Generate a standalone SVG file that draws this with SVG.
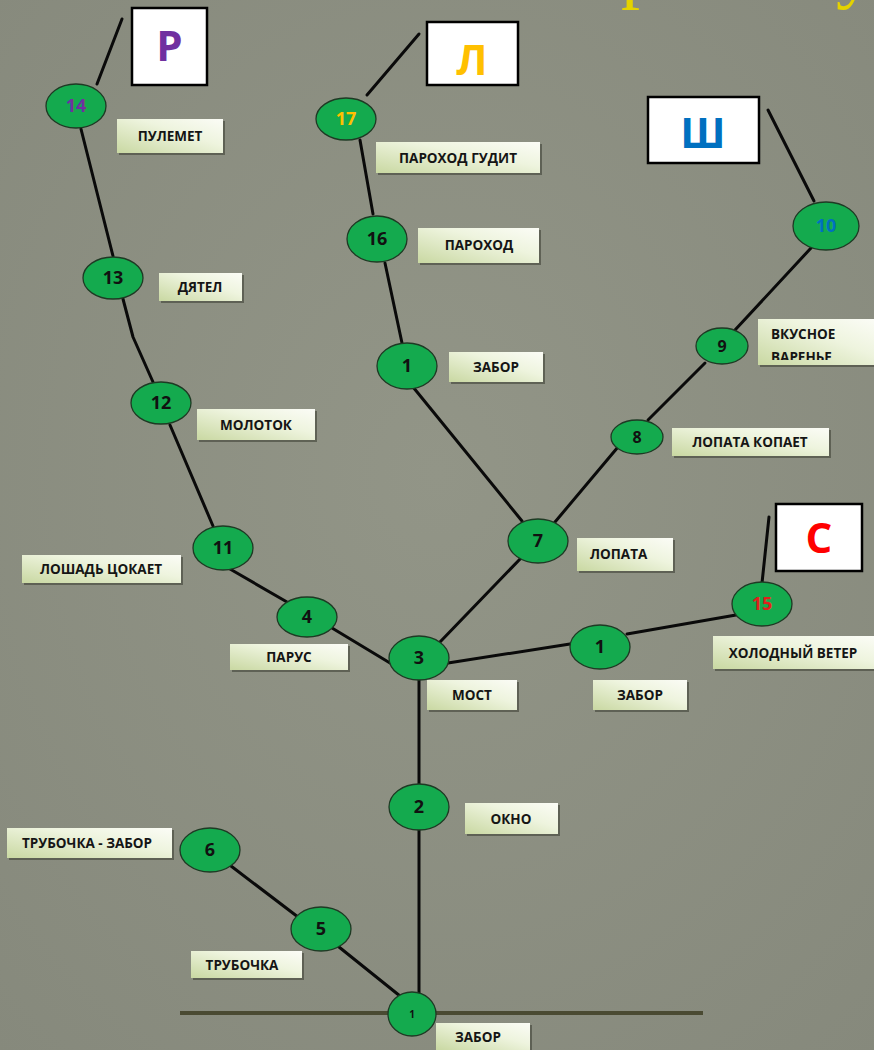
<svg xmlns="http://www.w3.org/2000/svg" width="874" height="1050" viewBox="0 0 874 1050">
<defs>
<linearGradient id="lbl" x1="0" y1="1" x2="1" y2="0">
<stop offset="0" stop-color="#c9d8a2"/>
<stop offset="0.6" stop-color="#eef4de"/>
<stop offset="1" stop-color="#fbfcf6"/>
</linearGradient>
<radialGradient id="bg" cx="0.5" cy="0.45" r="0.75">
<stop offset="0" stop-color="#929587"/>
<stop offset="1" stop-color="#86897c"/>
</radialGradient>
<clipPath id="clipVar"><rect x="758" y="319" width="116" height="41"/></clipPath>
<style>
.conn{stroke:#0a0a0a;stroke-width:3;fill:none;stroke-linecap:round;stroke-linejoin:round}
.node{fill:#14aa4e;stroke:#1e3a24;stroke-width:1.3}
.num{font-family:"Open Sans","Liberation Sans",sans-serif;font-weight:700;font-size:18px;fill:#111;text-anchor:middle}
.lbl{fill:url(#lbl)}
.shd{fill:#4f5246;opacity:0.75}
.lt{font-family:"Open Sans","Liberation Sans",sans-serif;font-weight:700;font-size:13.5px;fill:#151515;text-anchor:middle}
.lbox{fill:#ffffff;stroke:#000;stroke-width:2.5}
.letter{font-family:"Open Sans","Liberation Sans",sans-serif;font-weight:700;font-size:42px;text-anchor:middle}
.ttl{font-family:"Liberation Serif",serif;font-size:76px;fill:#e4d200}
</style>
</defs>
<rect width="874" height="1050" fill="url(#bg)"/>
<g id="title-fragment">
<text class="ttl" x="621" y="-6">р</text>
<text class="ttl" x="836" y="-6">у</text>
</g>
<line id="ground" x1="180" y1="1013" x2="703" y2="1013" stroke="#4a4a32" stroke-width="4"/>
<g id="connectors">
<path class="conn" d="M97,84 L122,19"/>
<path class="conn" d="M81,129 L113,256"/>
<path class="conn" d="M123,299 L133,337 L153,382"/>
<path class="conn" d="M170,425 L213,526"/>
<path class="conn" d="M230,569 L287,602"/>
<path class="conn" d="M332,628 L390,663"/>
<path class="conn" d="M440,642 L522,557"/>
<path class="conn" d="M448,663 L570,644"/>
<path class="conn" d="M627,634 L736,615"/>
<path class="conn" d="M762,583 L769,517"/>
<path class="conn" d="M413,387 L522,521"/>
<path class="conn" d="M402,343 L385,263"/>
<path class="conn" d="M373,214 L360,140"/>
<path class="conn" d="M367,95 L419,34"/>
<path class="conn" d="M555,522 L618,447"/>
<path class="conn" d="M648,420 L705,363"/>
<path class="conn" d="M735,330 L811,248"/>
<path class="conn" d="M814,201 L768,110"/>
<path class="conn" d="M419,680 L419,785"/>
<path class="conn" d="M419,830 L419,995"/>
<path class="conn" d="M231,866 L298,917"/>
<path class="conn" d="M339,947 L400,996"/>
</g>
<g id="box-R"><rect class="lbox" x="132" y="8" width="75" height="77"/><text class="letter" x="169.5" y="61" fill="#7030a0">Р</text></g>
<g id="box-L"><rect class="lbox" x="427" y="22" width="91" height="63"/><text class="letter" x="472" y="75" fill="#ffc000">Л</text></g>
<g id="box-Sh"><rect class="lbox" x="648" y="97" width="111" height="66"/><text class="letter" x="703" y="148" fill="#0070c0">Ш</text></g>
<g id="box-S"><rect class="lbox" x="776" y="504" width="86" height="67"/><text class="letter" x="819" y="553" fill="#ff0000">С</text></g>

<g id="n14"><ellipse class="node" cx="76" cy="106" rx="30" ry="22"/><text class="num" x="76" y="112" style="fill:#7030a0">14</text></g>
<g id="n17"><ellipse class="node" cx="346" cy="119" rx="30" ry="21"/><text class="num" x="346" y="125" style="fill:#ffc000">17</text></g>
<g id="n10"><ellipse class="node" cx="826" cy="226" rx="33" ry="24"/><text class="num" x="826" y="232" style="fill:#0070c0">10</text></g>
<g id="n16"><ellipse class="node" cx="377" cy="239" rx="30" ry="23"/><text class="num" x="377" y="245">16</text></g>
<g id="n1a"><ellipse class="node" cx="407" cy="366" rx="30" ry="23"/><text class="num" x="407" y="372">1</text></g>
<g id="n13"><ellipse class="node" cx="113" cy="278" rx="30" ry="21"/><text class="num" x="113" y="284">13</text></g>
<g id="n12"><ellipse class="node" cx="161" cy="403" rx="30" ry="21"/><text class="num" x="161" y="409">12</text></g>
<g id="n11"><ellipse class="node" cx="223" cy="548" rx="30" ry="22"/><text class="num" x="223" y="554">11</text></g>
<g id="n4"><ellipse class="node" cx="307" cy="617" rx="30" ry="20"/><text class="num" x="307" y="623">4</text></g>
<g id="n3"><ellipse class="node" cx="419" cy="658" rx="30" ry="22"/><text class="num" x="419" y="664">3</text></g>
<g id="n7"><ellipse class="node" cx="538" cy="541" rx="30" ry="22"/><text class="num" x="538" y="547">7</text></g>
<g id="n1b"><ellipse class="node" cx="600" cy="647" rx="30" ry="22"/><text class="num" x="600" y="653">1</text></g>
<g id="n15"><ellipse class="node" cx="762" cy="604" rx="30" ry="22"/><text class="num" x="762" y="610" style="fill:#e0201c">15</text></g>
<g id="n9"><ellipse class="node" cx="722" cy="346" rx="26" ry="18"/><text class="num" x="722" y="352" style="font-size:16px">9</text></g>
<g id="n8"><ellipse class="node" cx="637" cy="437" rx="26" ry="17"/><text class="num" x="637" y="443" style="font-size:16px">8</text></g>
<g id="n2"><ellipse class="node" cx="419" cy="807" rx="30" ry="23"/><text class="num" x="419" y="813">2</text></g>
<g id="n6"><ellipse class="node" cx="210" cy="850" rx="30" ry="22"/><text class="num" x="210" y="856">6</text></g>
<g id="n5"><ellipse class="node" cx="321" cy="929" rx="30" ry="22"/><text class="num" x="321" y="935">5</text></g>
<g id="n1c"><ellipse class="node" cx="412" cy="1014" rx="24" ry="22"/><text class="num" x="412" y="1018" style="font-size:10px">1</text></g>

<g id="l-pulemet"><rect class="shd" x="119" y="121" width="106" height="34"/><rect class="lbl" x="117" y="119" width="106" height="34"/><text class="lt" x="170" y="141">ПУЛЕМЕТ</text></g>
<g id="l-parohod-gudit"><rect class="shd" x="378" y="144" width="164" height="31"/><rect class="lbl" x="376" y="142" width="164" height="31"/><text class="lt" x="458" y="163">ПАРОХОД ГУДИТ</text></g>
<g id="l-parohod"><rect class="shd" x="420" y="230" width="121" height="35"/><rect class="lbl" x="418" y="228" width="121" height="35"/><text class="lt" x="479" y="250">ПАРОХОД</text></g>
<g id="l-zabor-a"><rect class="shd" x="451" y="354" width="94" height="30"/><rect class="lbl" x="449" y="352" width="94" height="30"/><text class="lt" x="496" y="372">ЗАБОР</text></g>
<g id="l-dyatel"><rect class="shd" x="161" y="275" width="83" height="28"/><rect class="lbl" x="159" y="273" width="83" height="28"/><text class="lt" x="200" y="292">ДЯТЕЛ</text></g>
<g id="l-molotok"><rect class="shd" x="199" y="411" width="118" height="31"/><rect class="lbl" x="197" y="409" width="118" height="31"/><text class="lt" x="256" y="430">МОЛОТОК</text></g>
<g id="l-varene"><rect class="shd" x="760" y="321" width="116" height="46"/><rect class="lbl" x="758" y="319" width="116" height="46"/><g clip-path="url(#clipVar)"><text class="lt" x="771" y="339" style="text-anchor:start">ВКУСНОЕ</text><text class="lt" x="771" y="362" style="text-anchor:start">ВАРЕНЬЕ</text></g></g>
<g id="l-lopata-kopaet"><rect class="shd" x="674" y="430" width="157" height="28"/><rect class="lbl" x="672" y="428" width="157" height="28"/><text class="lt" x="750" y="447">ЛОПАТА КОПАЕТ</text></g>
<g id="l-loshad"><rect class="shd" x="24" y="557" width="159" height="28"/><rect class="lbl" x="22" y="555" width="159" height="28"/><text class="lt" x="101" y="574">ЛОШАДЬ ЦОКАЕТ</text></g>
<g id="l-parus"><rect class="shd" x="232" y="646" width="118" height="26"/><rect class="lbl" x="230" y="644" width="118" height="26"/><text class="lt" x="289" y="662">ПАРУС</text></g>
<g id="l-lopata"><rect class="shd" x="579" y="540" width="96" height="33"/><rect class="lbl" x="577" y="538" width="96" height="33"/><text class="lt" x="590" y="559" style="text-anchor:start">ЛОПАТА</text></g>
<g id="l-most"><rect class="shd" x="429" y="682" width="90" height="30"/><rect class="lbl" x="427" y="680" width="90" height="30"/><text class="lt" x="472" y="700">МОСТ</text></g>
<g id="l-zabor-b"><rect class="shd" x="595" y="682" width="94" height="30"/><rect class="lbl" x="593" y="680" width="94" height="30"/><text class="lt" x="640" y="700">ЗАБОР</text></g>
<g id="l-holod"><rect class="shd" x="715" y="638" width="161" height="33"/><rect class="lbl" x="713" y="636" width="161" height="33"/><text class="lt" x="793" y="658">ХОЛОДНЫЙ ВЕТЕР</text></g>
<g id="l-okno"><rect class="shd" x="467" y="805" width="93" height="31"/><rect class="lbl" x="465" y="803" width="93" height="31"/><text class="lt" x="511" y="824">ОКНО</text></g>
<g id="l-trub-zabor"><rect class="shd" x="9" y="830" width="165" height="30"/><rect class="lbl" x="7" y="828" width="165" height="30"/><text class="lt" x="87" y="848">ТРУБОЧКА - ЗАБОР</text></g>
<g id="l-trub"><rect class="shd" x="193" y="953" width="111" height="27"/><rect class="lbl" x="191" y="951" width="111" height="27"/><text class="lt" x="242" y="970">ТРУБОЧКА</text></g>
<g id="l-zabor-c"><rect class="shd" x="438" y="1025" width="94" height="27"/><rect class="lbl" x="436" y="1023" width="94" height="27"/><text class="lt" x="478" y="1042">ЗАБОР</text></g>
</svg>
